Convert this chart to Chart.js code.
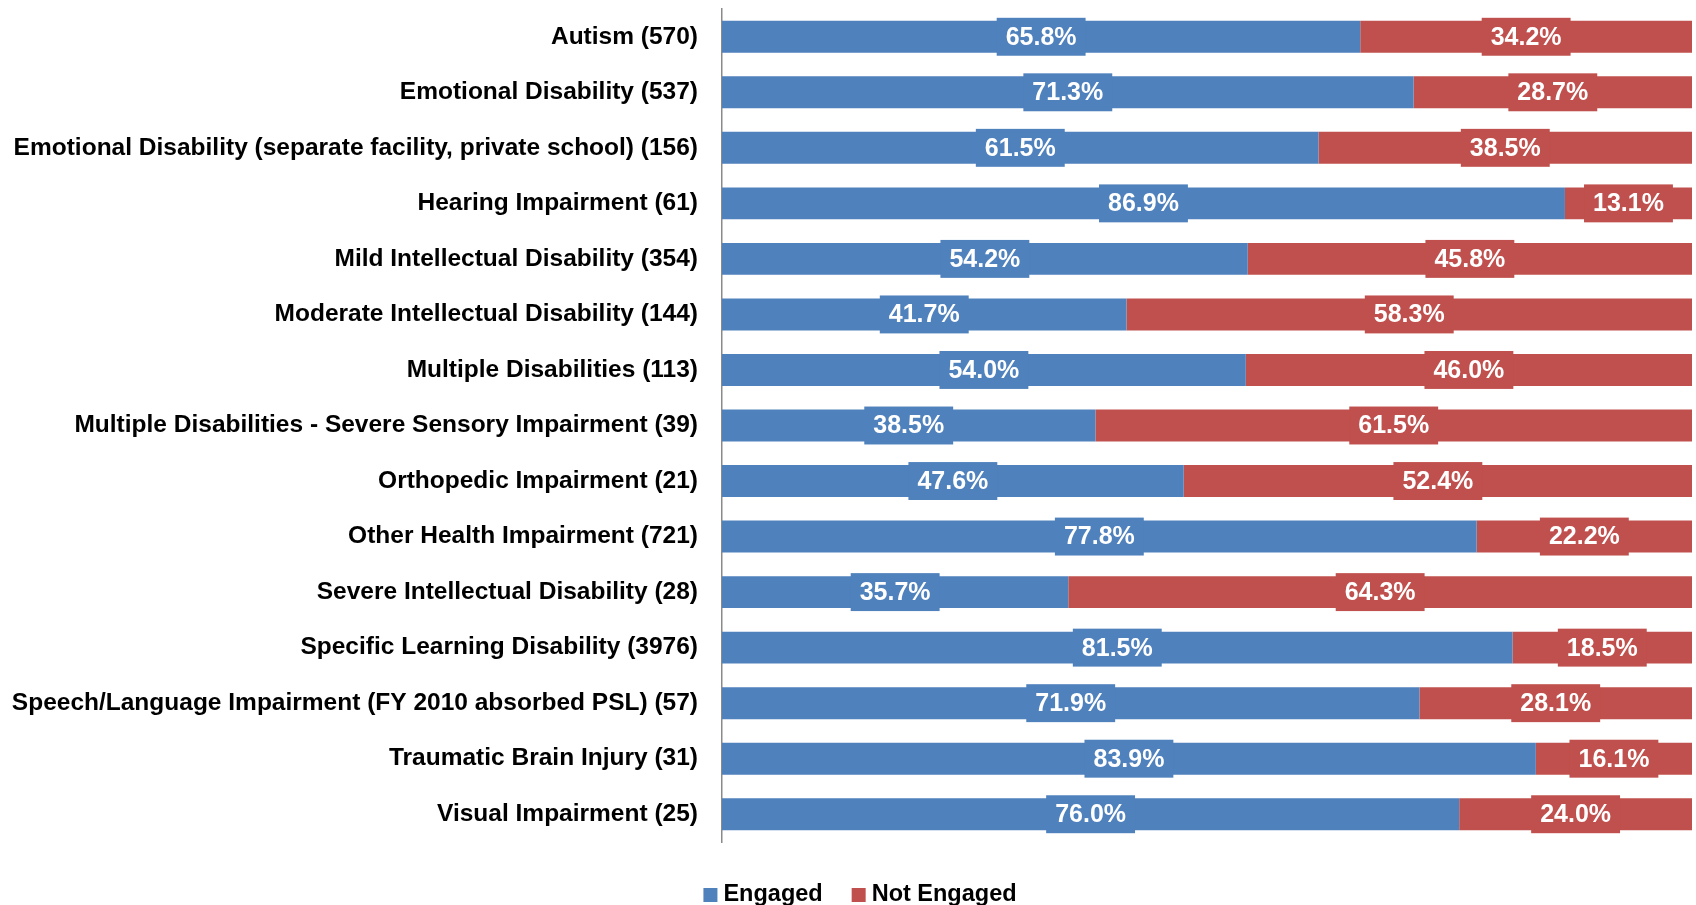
<!DOCTYPE html>
<html>
<head>
<meta charset="utf-8">
<script src="https://cdn.jsdelivr.net/npm/chart.js@4.4.0/dist/chart.umd.min.js"></script>
<style>
  html, body { margin: 0; padding: 0; background: #fff; }
  #wrap { width: 1696px; height: 905px; }
</style>
</head>
<body>
<div id="wrap"><canvas id="engagementChart" width="1696" height="905"></canvas></div>
<script>
// ===================== Data =====================
const categories = [
  'Autism (570)',
  'Emotional Disability (537)',
  'Emotional Disability (separate facility, private school) (156)',
  'Hearing Impairment (61)',
  'Mild Intellectual Disability (354)',
  'Moderate Intellectual Disability (144)',
  'Multiple Disabilities (113)',
  'Multiple Disabilities - Severe Sensory Impairment (39)',
  'Orthopedic Impairment (21)',
  'Other Health Impairment (721)',
  'Severe Intellectual Disability (28)',
  'Specific Learning Disability (3976)',
  'Speech/Language Impairment (FY 2010 absorbed PSL) (57)',
  'Traumatic Brain Injury (31)',
  'Visual Impairment (25)'
];
const engaged = [65.8, 71.3, 61.5, 86.9, 54.2, 41.7, 54.0, 38.5, 47.6, 77.8, 35.7, 81.5, 71.9, 83.9, 76.0];
const notEngaged = [34.2, 28.7, 38.5, 13.1, 45.8, 58.3, 46.0, 61.5, 52.4, 22.2, 64.3, 18.5, 28.1, 16.1, 24.0];

const BLUE = '#4F81BD';
const RED = '#C0504D';
const FONT = "'Liberation Sans', Arial, sans-serif";

// value boxes in the middle of every segment
const segmentLabels = {
  id: 'segmentLabels',
  afterDatasetsDraw(chart) {
    const ctx = chart.ctx;
    ctx.save();
    ctx.font = 'bold 25px ' + FONT;
    ctx.textAlign = 'center';
    ctx.textBaseline = 'middle';
    chart.data.datasets.forEach((ds, i) => {
      const meta = chart.getDatasetMeta(i);
      meta.data.forEach((bar, j) => {
        const txt = ds.data[j].toFixed(1) + '%';
        const cx = (bar.x + bar.base) / 2;
        const w = ctx.measureText(txt).width + 18;
        const h = bar.height + 6;
        ctx.fillStyle = ds.backgroundColor;
        ctx.fillRect(cx - w / 2, bar.y - h / 2, w, h);
        ctx.fillStyle = '#fff';
        ctx.fillText(txt, cx, bar.y + 1);
      });
    });
    ctx.restore();
  }
};

// legend row under the plot
const bottomLegend = {
  id: 'bottomLegend',
  afterDraw(chart) {
    const ctx = chart.ctx;
    const box = 14, gap = 6, itemGap = 29;
    ctx.save();
    ctx.font = 'bold 23.5px ' + FONT;
    ctx.textBaseline = 'alphabetic';
    const items = chart.data.datasets.map(ds => ({
      text: ds.label, color: ds.backgroundColor, w: ctx.measureText(ds.label).width
    }));
    const total = items.reduce((s, it) => s + box + gap + it.w, 0) + itemGap * (items.length - 1);
    let x = chart.width / 2 + 12 - total / 2;
    const base = 901;
    items.forEach(it => {
      ctx.fillStyle = it.color;
      ctx.fillRect(x, base - 13, box, box);
      ctx.fillStyle = '#000';
      ctx.fillText(it.text, x + box + gap, base);
      x += box + gap + it.w + itemGap;
    });
    ctx.restore();
  }
};

const ctx = document.getElementById('engagementChart').getContext('2d');
new Chart(ctx, {
  type: 'bar',
  data: {
    labels: categories,
    datasets: [
      { label: 'Engaged', data: engaged, backgroundColor: BLUE, borderWidth: 0 },
      { label: 'Not Engaged', data: notEngaged, backgroundColor: RED, borderWidth: 0 }
    ]
  },
  options: {
    indexAxis: 'y',
    responsive: false,
    animation: false,
    categoryPercentage: 1,
    barPercentage: 0.575,
    layout: { padding: { top: 9, right: 4, left: 0, bottom: 63 } },
    scales: {
      x: {
        stacked: true,
        min: 0,
        max: 100,
        display: false
      },
      y: {
        stacked: true,
        grid: { display: false, drawTicks: false },
        border: { display: true, color: '#8a8a8a', width: 1.5 },
        ticks: {
          color: '#000',
          padding: 24,
          autoSkip: false,
          font: { family: FONT, size: 24.5, weight: 'bold' }
        },
        afterFit(scale) {
          scale.width = 722;
          scale.paddingTop = 0;
          scale.paddingBottom = 0;
        }
      }
    },
    plugins: {
      tooltip: { enabled: false },
      legend: { display: false }
    }
  },
  plugins: [segmentLabels, bottomLegend]
});
</script>
</body>
</html>
